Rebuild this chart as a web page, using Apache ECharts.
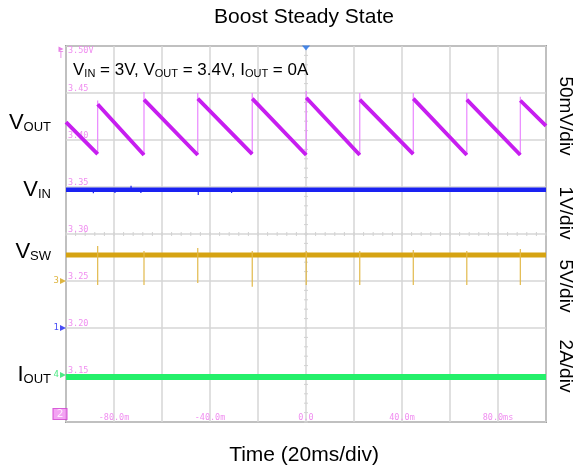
<!DOCTYPE html>
<html><head><meta charset="utf-8">
<script src="https://cdn.jsdelivr.net/npm/echarts@6/dist/echarts.min.js"></script>
<style>html,body{margin:0;padding:0;background:#fff}#c{width:578px;height:469px}</style>
</head><body><div id="c"></div>
<script>
// ---------- data read from the scope capture ----------
const timeRange = [-100, 100];          // ms, 20 ms/div
const levelRange = [3.10, 3.50];        // graticule level labels (V)
const timeTickValues = [-80, -40, 0, 40, 80];
const timeTickLabels = ['-80.0m', '-40.0m', '0.0', '40.0m', '80.0ms'];
const levelTickValues = [3.45, 3.40, 3.35, 3.30, 3.25, 3.20, 3.15];
const levelTickLabels = ['3.45', '3.40', '3.35', '3.30', '3.25', '3.20', '3.15'];
const topLevelLabel = '3.50V';

// VOUT sawtooth (50 mV/div)
const voutStart = [-100, 3.419];
const voutEnd = [100, 3.415];
const voutRiseTimes = [-86.8, -67.5, -45.1, -22.4, 0.1, 22.4, 44.7, 67.0, 89.3];
const voutTroughs   = [3.385, 3.384, 3.384, 3.385, 3.384, 3.384, 3.385, 3.384, 3.384];
const voutPeaks     = [3.438, 3.443, 3.444, 3.444, 3.445, 3.443, 3.444, 3.443, 3.442];
const voutEdgeTops  = [3.442, 3.451, 3.450, 3.450, 3.452, 3.450, 3.450, 3.450, 3.446];

// VIN (1 V/div)
const vinLevel = 3.347;
const vinGlitchTimes  = [-88.6, -79.6, -72.9, -68.8, -53.3, -44.9, -31.0];
const vinGlitchValues = [3.3433, 3.3435, 3.3514, 3.3435, 3.3447, 3.3415, 3.3435];

// VSW (5 V/div)
const vswLevel = 3.2777;
const vswSpikeTimes = [-86.8, -67.5, -45.1, -22.4, 0.1, 22.4, 44.7, 67.0, 89.3];
const vswSpikeLows  = [3.2457, 3.2457, 3.2479, 3.2439, 3.2457, 3.2457, 3.2457, 3.2457, 3.2457];
const vswSpikeHighs = [3.2872, 3.2820, 3.2850, 3.2820, 3.2820, 3.2820, 3.2830, 3.2820, 3.2840];

// IOUT (2 A/div)
const ioutLevel = 3.148;

// crosshair centre and minor step (1/5 div)
const crosshair = [0, 3.30];
const crosshairStep = [4, 0.01];

// channel markers at the left edge
const markerLevels = [3.25, 3.20, 3.15];
const markerNames = ['3', '1', '4'];

// ---------- build series data ----------
const GAP = '-';
const voutRamps = [];
voutRamps.push(voutStart, [voutRiseTimes[0], voutTroughs[0]], [voutRiseTimes[0], GAP]);
for (let i = 0; i < voutRiseTimes.length; i++) {
  voutRamps.push([voutRiseTimes[i], voutPeaks[i]]);
  if (i + 1 < voutRiseTimes.length) {
    voutRamps.push([voutRiseTimes[i + 1], voutTroughs[i + 1]], [voutRiseTimes[i + 1], GAP]);
  } else {
    voutRamps.push(voutEnd);
  }
}
const voutEdges = [];
voutRiseTimes.forEach((t, i) => { voutEdges.push([t, voutTroughs[i]], [t, voutEdgeTops[i]], [t, GAP]); });

const vinLine = [[timeRange[0], vinLevel], [timeRange[1], vinLevel]];
const vinGlitches = [];
vinGlitchTimes.forEach((t, i) => { vinGlitches.push([t, vinLevel], [t, vinGlitchValues[i]], [t, GAP]); });

const vswLine = [[timeRange[0], vswLevel], [timeRange[1], vswLevel]];
const vswSpikes = [];
vswSpikeTimes.forEach((t, i) => { vswSpikes.push([t, vswSpikeHighs[i]], [t, vswSpikeLows[i]], [t, GAP]); });

const ioutLine = [[timeRange[0], ioutLevel], [timeRange[1], ioutLevel]];

// ---------- chart ----------
const F = '"Liberation Sans", Arial, sans-serif';
const MONO = '"DejaVu Sans Mono", monospace';
const PINK = '#f08ef0';
const markerColors = ['#d6a312', '#1a22f2', '#24e468'];

const chart = echarts.init(document.getElementById('c'), null, { renderer: 'canvas' });

function lineSeries(name, data, color, width, z) {
  return { name, type: 'line', data, showSymbol: false, symbol: 'none', connectNulls: false,
    lineStyle: { color, width, cap: 'butt' }, itemStyle: { color }, z: z || 2, silent: true, animation: false };
}

function richLabel(x, y, text, big, small, align) {
  return { type: 'text', x, y, z: 10, style: {
    text, align: align || 'left', verticalAlign: 'middle', fill: '#000',
    rich: {
      b: { fontSize: big, fontFamily: F, verticalAlign: 'bottom', fill: '#000' },
      s: { fontSize: small, fontFamily: F, verticalAlign: 'bottom', fill: '#000' }
    }
  }};
}
function rotLabel(x, y, text) {
  return { type: 'text', x, y, rotation: -Math.PI / 2, z: 10, style: {
    text, font: '19px ' + F, align: 'center', verticalAlign: 'middle', fill: '#000' } };
}

const option = {
  animation: false,
  backgroundColor: '#fff',
  grid: { left: 66, right: 32, top: 46, bottom: 47, show: true, borderColor: '#555', borderWidth: 1.5, backgroundColor: 'transparent' },
  xAxis: [{
    type: 'value', min: timeRange[0], max: timeRange[1], interval: 20,
    axisLine: { show: false }, axisTick: { show: false },
    splitLine: { show: true, lineStyle: { color: '#d6d6d6', width: 1.5 } },
    axisLabel: { inside: true, margin: 0, color: PINK, fontFamily: MONO, fontSize: 8.5,
      formatter: v => { const i = timeTickValues.indexOf(Math.round(v)); return i >= 0 ? timeTickLabels[i] : ''; } }
  }],
  yAxis: [{
    type: 'value', min: levelRange[0], max: levelRange[1], interval: 0.05,
    axisLine: { show: false }, axisTick: { show: false },
    splitLine: { show: true, lineStyle: { color: '#d6d6d6', width: 1.5 } },
    axisLabel: { inside: true, margin: 2, color: PINK, fontFamily: MONO, fontSize: 8.5, verticalAlign: 'bottom',
      formatter: v => { const i = levelTickValues.findIndex(x => Math.abs(x - v) < 1e-6); return i >= 0 ? levelTickLabels[i] : ''; } }
  }, {
    type: 'value', position: 'left', min: levelRange[0], max: levelRange[1], interval: 0.05,
    axisLine: { show: false }, axisTick: { show: false }, splitLine: { show: false },
    axisLabel: { inside: true, margin: 2, color: PINK, fontFamily: MONO, fontSize: 8.5, verticalAlign: 'top',
      formatter: v => Math.abs(v - levelRange[1]) < 1e-6 ? topLevelLabel : '' }
  }],
  series: [
    {
      type: 'custom', silent: true, z: 1, data: [crosshair],
      renderItem: (params, api) => {
        const cx = api.value(0), cy = api.value(1);
        const children = [];
        for (let t = timeRange[0]; t <= timeRange[1] + 1e-9; t += crosshairStep[0]) {
          const p = api.coord([t, cy]);
          children.push({ type: 'line', shape: { x1: p[0], y1: p[1] - 2, x2: p[0], y2: p[1] + 2 }, style: { stroke: '#d2d2d2', lineWidth: 1 } });
        }
        for (let v = levelRange[0]; v <= levelRange[1] + 1e-9; v += crosshairStep[1]) {
          const p = api.coord([cx, v]);
          children.push({ type: 'line', shape: { x1: p[0] - 2, y1: p[1], x2: p[0] + 2, y2: p[1] }, style: { stroke: '#d2d2d2', lineWidth: 1 } });
        }
        return { type: 'group', children };
      }
    },
    lineSeries('IOUT', ioutLine, '#24f06a', 6, 3),
    lineSeries('VSW', vswLine, '#d6a312', 5, 3),
    lineSeries('VSW spikes', vswSpikes, '#e2b94a', 1.2, 3),
    lineSeries('VIN', vinLine, '#1a22f2', 4.5, 4),
    lineSeries('VIN glitches', vinGlitches, '#1a22f2', 1.2, 4),
    lineSeries('VOUT edges', voutEdges, '#ea86ff', 1.2, 4),
    lineSeries('VOUT', voutRamps, '#c71ef0', 3.8, 5),
    {
      type: 'scatter', clip: false, silent: true, z: 6,
      data: markerLevels.map((v, i) => ({
        value: [timeRange[0], v], itemStyle: { color: markerColors[i] },
        label: { show: true, position: 'left', distance: 1, formatter: markerNames[i], color: markerColors[i], fontFamily: MONO, fontSize: 9 }
      })).concat([
        { value: [timeRange[0], levelRange[0]], symbol: 'rect', symbolSize: [11, 14], symbolOffset: [-6, -8],
          itemStyle: { color: '#f08cf0', borderColor: '#d040d0', borderWidth: 1 },
          label: { show: true, position: 'inside', formatter: '2', color: '#fff', fontFamily: MONO, fontSize: 11 } },
        { value: [timeRange[0], levelRange[1]], symbol: 'triangle', symbolSize: [5, 5], symbolOffset: [-5, 3],
          itemStyle: { color: '#e060e0' },
          label: { show: true, position: 'bottom', distance: 0, formatter: 'T', color: '#e060e0', fontFamily: MONO, fontSize: 8 } },
        { value: [crosshair[0], levelRange[1]], symbol: 'triangle', symbolRotate: 180, symbolSize: [8, 5], symbolOffset: [0, 2],
          itemStyle: { color: '#1f6fe8' } }
      ]),
      symbol: 'triangle', symbolRotate: -90, symbolSize: 6, symbolOffset: [-3, 0]
    }
  ],
  graphic: [
    { type: 'text', x: 304, y: 17.5, z: 10, style: { text: 'Boost Steady State', font: '21px ' + F, align: 'center', verticalAlign: 'middle', fill: '#000' } },
    { type: 'text', x: 304, y: 455.5, z: 10, style: { text: 'Time (20ms/div)', font: '21px ' + F, align: 'center', verticalAlign: 'middle', fill: '#000' } },
    richLabel(73, 70.8, '{b|V}{s|IN}{b| = 3V, V}{s|OUT}{b| = 3.4V, I}{s|OUT}{b| = 0A}', 17, 11),
    richLabel(51, 122.7, '{b|V}{s|OUT}', 22, 13, 'right'),
    richLabel(51, 190, '{b|V}{s|IN}', 22, 13, 'right'),
    richLabel(51, 251.5, '{b|V}{s|SW}', 22, 13, 'right'),
    richLabel(51, 374.7, '{b|I}{s|OUT}', 22, 13, 'right'),
    rotLabel(565, 116, '50mV/div'),
    rotLabel(565, 213, '1V/div'),
    rotLabel(565, 286, '5V/div'),
    rotLabel(565, 366, '2A/div')
  ]
};
chart.setOption(option);
</script>
</body></html>
